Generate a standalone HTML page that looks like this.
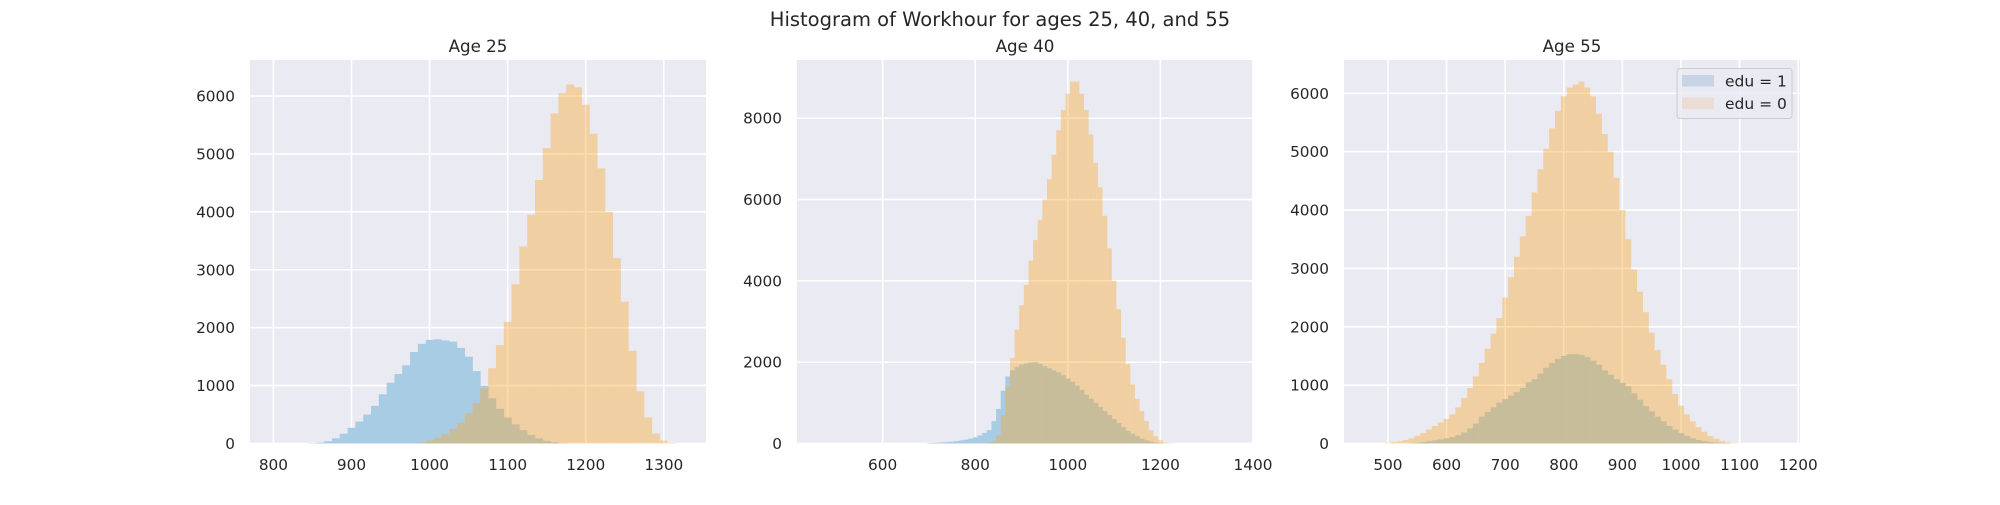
<!DOCTYPE html>
<html><head><meta charset="utf-8">
<style>
html,body{margin:0;padding:0;background:#fff;}
svg text{font-family:"DejaVu Sans","Liberation Sans",sans-serif;fill:#262626;}
</style></head>
<body>
<svg id="fig" width="2000" height="500" viewBox="0 0 2000 500" xmlns="http://www.w3.org/2000/svg">
<text x="1000" y="26" text-anchor="middle" font-size="19.5">Histogram of Workhour for ages 25, 40, and 55</text>
</svg>
<script>
// ---- Data (bin centers, counts) ----
const p1BlueX = [850,860,870,880,890,900,910,920,930,940,950,960,970,980,990,1000,1010,1020,1030,1040,1050,1060,1070,1080,1090,1100,1110,1120,1130,1140,1150,1160,1170];
const p1Blue  = [5,15,40,90,170,270,380,500,650,850,1050,1200,1350,1580,1720,1790,1800,1780,1760,1650,1500,1250,1000,780,600,450,330,230,150,90,45,20,5];
const p1OrangeX = [990,1000,1010,1020,1030,1040,1050,1060,1070,1080,1090,1100,1110,1120,1130,1140,1150,1160,1170,1180,1190,1200,1210,1220,1230,1240,1250,1260,1270,1280,1290,1300,1310];
const p1Orange  = [20,50,100,160,250,360,520,700,950,1300,1700,2100,2750,3400,3950,4550,5100,5700,6050,6200,6150,5850,5350,4750,4000,3200,2450,1600,900,450,170,50,10];

const p2BlueX = [700,710,720,730,740,750,760,770,780,790,800,810,820,830,840,850,860,870,880,890,900,910,920,930,940,950,960,970,980,990,1000,1010,1020,1030,1040,1050,1060,1070,1080,1090,1100,1110,1120,1130,1140,1150,1160,1170,1180,1190,1200];
const p2Blue  = [10,15,20,25,35,45,60,75,95,120,150,200,260,330,550,850,1300,1650,1800,1880,1940,1970,1990,2000,1960,1900,1850,1800,1750,1680,1600,1520,1420,1320,1200,1100,1000,900,800,700,600,500,400,310,240,180,120,80,50,25,10];
const p2OrangeX = [830,840,850,860,870,880,890,900,910,920,930,940,950,960,970,980,990,1000,1010,1020,1030,1040,1050,1060,1070,1080,1090,1100,1110,1120,1130,1140,1150,1160,1170,1180,1190,1200,1210,1220];
const p2Orange  = [20,60,200,700,1400,2100,2800,3400,3900,4500,5000,5500,6000,6500,7100,7700,8200,8600,8900,8900,8600,8200,7600,6900,6300,5600,4800,4000,3300,2600,1950,1450,1100,800,550,330,180,80,30,10];

const p3BlueX = [540,550,560,570,580,590,600,610,620,630,640,650,660,670,680,690,700,710,720,730,740,750,760,770,780,790,800,810,820,830,840,850,860,870,880,890,900,910,920,930,940,950,960,970,980,990,1000,1010,1020,1030,1040,1050,1060,1070,1080];
const p3Blue  = [5,15,25,40,55,70,90,110,140,190,260,340,460,540,620,700,760,820,880,950,1050,1100,1200,1300,1380,1450,1500,1530,1530,1520,1480,1420,1350,1250,1180,1100,1040,980,860,750,640,550,460,380,300,240,180,130,90,60,40,25,15,8,3];
const p3OrangeX = [500,510,520,530,540,550,560,570,580,590,600,610,620,630,640,650,660,670,680,690,700,710,720,730,740,750,760,770,780,790,800,810,820,830,840,850,860,870,880,890,900,910,920,930,940,950,960,970,980,990,1000,1010,1020,1030,1040,1050,1060,1070,1080,1090];
const p3Orange  = [10,25,40,60,90,130,180,240,300,360,420,500,620,780,950,1150,1380,1620,1880,2150,2500,2850,3200,3550,3900,4300,4700,5050,5400,5700,5950,6100,6150,6200,6100,5950,5650,5300,5000,4550,4000,3500,2980,2600,2250,1900,1600,1350,1100,850,650,500,380,280,200,130,80,45,20,8];

const titles = ["Age 25","Age 40","Age 55"];
const xTicks1 = [800,900,1000,1100,1200,1300];
const xTicks2 = [600,800,1000,1200,1400];
const xTicks3 = [500,600,700,800,900,1000,1100,1200];
const yTicks1 = [0,1000,2000,3000,4000,5000,6000];
const yTicks2 = [0,2000,4000,6000,8000];
const yTicks3 = [0,1000,2000,3000,4000,5000,6000];
const legendLabels = ["edu = 1","edu = 0"];

const NS = "http://www.w3.org/2000/svg";
const svg = document.getElementById('fig');
function mk(tag, attrs, parent){const e=document.createElementNS(NS,tag);for(const k in attrs)e.setAttribute(k,attrs[k]);(parent||svg).appendChild(e);return e;}

const panels = [
 {x0:250,xmin:770,xmax:1354,ymax:6622,bx:p1BlueX,b:p1Blue,ox:p1OrangeX,o:p1Orange,xt:xTicks1,yt:yTicks1},
 {x0:797,xmin:415,xmax:1400,ymax:9430,bx:p2BlueX,b:p2Blue,ox:p2OrangeX,o:p2Orange,xt:xTicks2,yt:yTicks2},
 {x0:1344,xmin:425,xmax:1203,ymax:6571,bx:p3BlueX,b:p3Blue,ox:p3OrangeX,o:p3Orange,xt:xTicks3,yt:yTicks3}
];
const W=456, TOP=60, BOT=443.5, BIN=10;

panels.forEach((p,i)=>{
  const g = mk('g',{});
  
  
  const sx = v => p.x0 + (v-p.xmin)/(p.xmax-p.xmin)*W;
  const sy = v => BOT - v/p.ymax*(BOT-TOP);
  const bg = mk('rect',{x:p.x0,y:TOP,width:W,height:BOT-TOP,fill:'#eaeaf2'},g);
  
  
  p.xt.forEach(t=>{
    const l=mk('line',{x1:sx(t),x2:sx(t),y1:TOP,y2:BOT,stroke:'#fff','stroke-width':1.6},g);
    
    
    const tx=mk('text',{x:sx(t),y:470,'text-anchor':'middle','font-size':15.3},g);
    tx.textContent=t;
    
    
  });
  p.yt.forEach(t=>{
    const l=mk('line',{x1:p.x0,x2:p.x0+W,y1:sy(t),y2:sy(t),stroke:'#fff','stroke-width':1.6},g);
    
    
    const tx=mk('text',{x:p.x0-15,y:sy(t)+5.5,'text-anchor':'end','font-size':15.3},g);
    tx.textContent=t;
    
    
  });
  p.bx.forEach((v,k)=>{
    const r=mk('rect',{x:sx(v-BIN/2),y:sy(p.b[k]),width:sx(v+BIN/2)-sx(v-BIN/2)+0.3,height:BOT-sy(p.b[k]),fill:'#a8cce4'},g);
    
    
  });
  p.ox.forEach((v,k)=>{
    const r=mk('rect',{x:sx(v-BIN/2),y:sy(p.o[k]),width:sx(v+BIN/2)-sx(v-BIN/2),height:BOT-sy(p.o[k]),fill:'rgb(249,165,39)','fill-opacity':0.39},g);
    
    
  });
  const tt=mk('text',{x:p.x0+W/2,y:52,'text-anchor':'middle','font-size':16.7},g);
  tt.textContent=titles[i];
  
  
});

// legend
const lg = mk('g',{});


mk('rect',{x:1677,y:68.5,width:115,height:50,rx:3,fill:'#eaeaf2','fill-opacity':0.8,stroke:'#cccccc','stroke-width':1},lg);
const legCols=['#c9d3e6','#ecdcd6'];
legendLabels.forEach((lab,k)=>{
  const r=mk('rect',{x:1682,y:75+k*22.5,width:32,height:11.5,fill:legCols[k]},lg);
  
  
  const t=mk('text',{x:1725,y:86.5+k*22.5,'font-size':15.5},lg);
  t.textContent=lab;
  
  
});
</script>
</body></html>
